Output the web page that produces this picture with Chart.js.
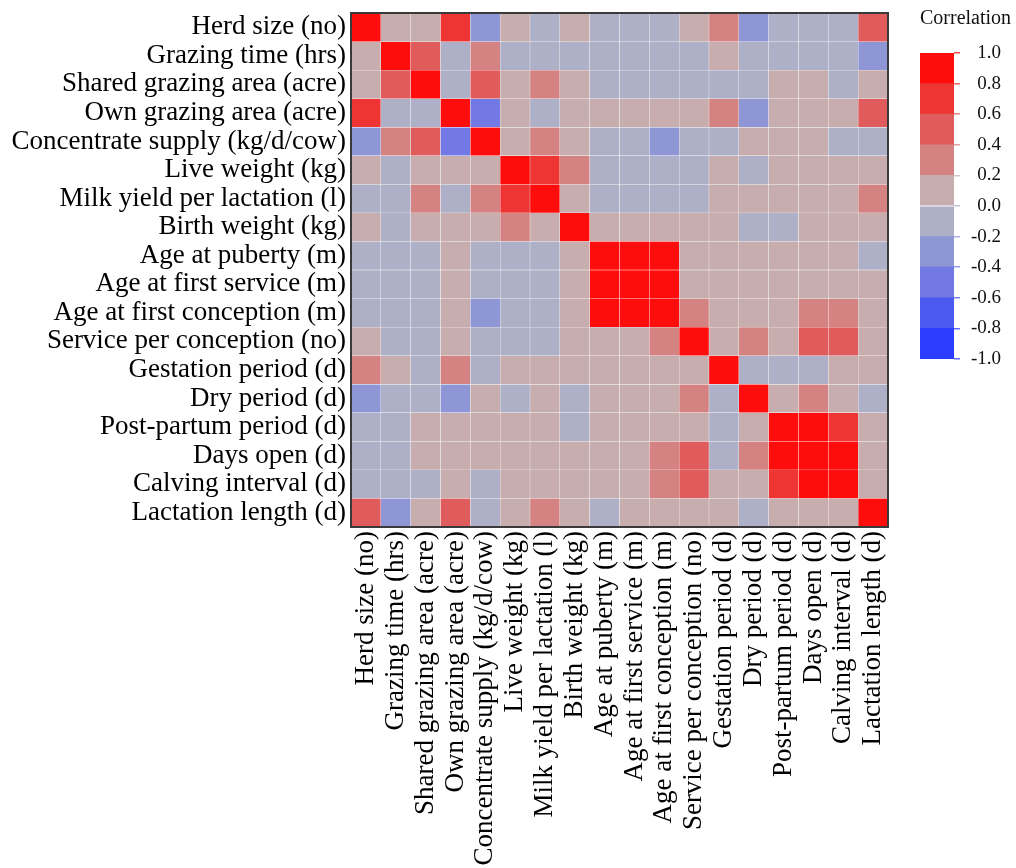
<!DOCTYPE html>
<html>
<head>
<meta charset="utf-8">
<script src="https://cdn.jsdelivr.net/npm/chart.js@4"></script>
<style>
  body { margin: 0; background: #fff; }
  #wrap { position: relative; width: 1016px; height: 868px; }
  canvas { position: absolute; top: 0; }
  #cbTitle { position: absolute; left: 920px; top: 6px; font: 20px "Liberation Serif", "Times New Roman", serif; color: #111; }
</style>
</head>
<body>
<div id="wrap">
  <canvas id="heat" width="1016" height="868" style="left:0"></canvas>
  <canvas id="scale" width="116" height="370" style="left:900px"></canvas>
  <div id="cbTitle">Correlation</div>
</div>
<script>
const variables = [
    'Herd size (no)', 'Grazing time (hrs)', 'Shared grazing area (acre)', 'Own grazing area (acre)',
    'Concentrate supply (kg/d/cow)', 'Live weight (kg)', 'Milk yield per lactation (l)', 'Birth weight (kg)',
    'Age at puberty (m)', 'Age at first service (m)', 'Age at first conception (m)', 'Service per conception (no)',
    'Gestation period (d)', 'Dry period (d)', 'Post-partum period (d)', 'Days open (d)',
    'Calving interval (d)', 'Lactation length (d)'
];

// correlation matrix, one row per variable (same order as columns)
const corr = [
    [1.0, 0.1, 0.1, 0.7, -0.3, 0.1, -0.1, 0.1, -0.1, -0.1, -0.1, 0.1, 0.3, -0.3, -0.1, -0.1, -0.1, 0.5],
    [0.1, 1.0, 0.5, -0.1, 0.3, -0.1, -0.1, -0.1, -0.1, -0.1, -0.1, -0.1, 0.1, -0.1, -0.1, -0.1, -0.1, -0.3],
    [0.1, 0.5, 1.0, -0.1, 0.5, 0.1, 0.3, 0.1, -0.1, -0.1, -0.1, -0.1, -0.1, -0.1, 0.1, 0.1, -0.1, 0.1],
    [0.7, -0.1, -0.1, 1.0, -0.5, 0.1, -0.1, 0.1, 0.1, 0.1, 0.1, 0.1, 0.3, -0.3, 0.1, 0.1, 0.1, 0.5],
    [-0.3, 0.3, 0.5, -0.5, 1.0, 0.1, 0.3, 0.1, -0.1, -0.1, -0.3, -0.1, -0.1, 0.1, 0.1, 0.1, -0.1, -0.1],
    [0.1, -0.1, 0.1, 0.1, 0.1, 1.0, 0.7, 0.3, -0.1, -0.1, -0.1, -0.1, 0.1, -0.1, 0.1, 0.1, 0.1, 0.1],
    [-0.1, -0.1, 0.3, -0.1, 0.3, 0.7, 1.0, 0.1, -0.1, -0.1, -0.1, -0.1, 0.1, 0.1, 0.1, 0.1, 0.1, 0.3],
    [0.1, -0.1, 0.1, 0.1, 0.1, 0.3, 0.1, 1.0, 0.1, 0.1, 0.1, 0.1, 0.1, -0.1, -0.1, 0.1, 0.1, 0.1],
    [-0.1, -0.1, -0.1, 0.1, -0.1, -0.1, -0.1, 0.1, 1.0, 0.9, 0.9, 0.1, 0.1, 0.1, 0.1, 0.1, 0.1, -0.1],
    [-0.1, -0.1, -0.1, 0.1, -0.1, -0.1, -0.1, 0.1, 0.9, 1.0, 0.9, 0.1, 0.1, 0.1, 0.1, 0.1, 0.1, 0.1],
    [-0.1, -0.1, -0.1, 0.1, -0.3, -0.1, -0.1, 0.1, 0.9, 0.9, 1.0, 0.3, 0.1, 0.1, 0.1, 0.3, 0.3, 0.1],
    [0.1, -0.1, -0.1, 0.1, -0.1, -0.1, -0.1, 0.1, 0.1, 0.1, 0.3, 1.0, 0.1, 0.3, 0.1, 0.5, 0.5, 0.1],
    [0.3, 0.1, -0.1, 0.3, -0.1, 0.1, 0.1, 0.1, 0.1, 0.1, 0.1, 0.1, 1.0, -0.1, -0.1, -0.1, 0.1, 0.1],
    [-0.3, -0.1, -0.1, -0.3, 0.1, -0.1, 0.1, -0.1, 0.1, 0.1, 0.1, 0.3, -0.1, 1.0, 0.1, 0.3, 0.1, -0.1],
    [-0.1, -0.1, 0.1, 0.1, 0.1, 0.1, 0.1, -0.1, 0.1, 0.1, 0.1, 0.1, -0.1, 0.1, 1.0, 0.9, 0.7, 0.1],
    [-0.1, -0.1, 0.1, 0.1, 0.1, 0.1, 0.1, 0.1, 0.1, 0.1, 0.3, 0.5, -0.1, 0.3, 0.9, 1.0, 0.9, 0.1],
    [-0.1, -0.1, -0.1, 0.1, -0.1, 0.1, 0.1, 0.1, 0.1, 0.1, 0.3, 0.5, 0.1, 0.1, 0.7, 0.9, 1.0, 0.1],
    [0.5, -0.3, 0.1, 0.5, -0.1, 0.1, 0.3, 0.1, -0.1, 0.1, 0.1, 0.1, 0.1, -0.1, 0.1, 0.1, 0.1, 1.0]
];

// colour scale: 10 bins from -1 to 1
const binEdges = [-1.0, -0.8, -0.6, -0.4, -0.2, 0.0, 0.2, 0.4, 0.6, 0.8, 1.0];
const binColors = ['#2b3dff', '#4a5af0', '#7279e4', '#8f96d6', '#aeb0c7',
                   '#c7adad', '#d58282', '#e05b5b', '#ef3434', '#ff0d0d'];

const serif = '"Liberation Serif", "Times New Roman", serif';

function binIndex(v) {
    return Math.max(0, Math.min(9, Math.floor((v + 1) / 0.2 + 1e-6)));
}
function binColor(v) {
    return binColors[binIndex(v)];
}
function fade(hex, a) {
    const n = parseInt(hex.slice(1), 16);
    return `rgba(${n >> 16},${(n >> 8) & 255},${n & 255},${a})`;
}

const plotBorder = {
    id: 'plotBorder',
    afterDatasetsDraw(chart) {
        const { ctx, chartArea: a } = chart;
        ctx.save();
        ctx.strokeStyle = '#3a3a3a';
        ctx.lineWidth = 2;
        ctx.strokeRect(a.left, a.top, a.right - a.left, a.bottom - a.top);
        ctx.restore();
    }
};

// one dataset per row, each cell is a floating bar spanning [r, r+1]
const heatDatasets = variables.map((name, r) => ({
    label: name,
    data: variables.map(() => [r, r + 1]),
    backgroundColor: corr[r].map(binColor),
    borderColor: 'rgba(255,255,255,0.3)',
    borderWidth: 0.5,
    borderSkipped: false,
    grouped: false,
    barPercentage: 1,
    categoryPercentage: 1
}));

new Chart('heat', {
    type: 'bar',
    data: { labels: variables, datasets: heatDatasets },
    options: {
        responsive: false,
        animation: false,
        layout: { padding: { top: 13, right: 128, left: 0, bottom: 0 } },
        plugins: { legend: { display: false }, tooltip: { enabled: false } },
        scales: {
            x: {
                offset: true,
                grid: { display: false, drawTicks: false },
                border: { display: false },
                ticks: {
                    autoSkip: false, minRotation: 90, maxRotation: 90, padding: 4,
                    color: '#000', font: { family: serif, size: 27 }
                },
                afterFit: s => { s.height = 341; }
            },
            y: {
                type: 'linear', reverse: true, min: 0, max: variables.length,
                afterBuildTicks: s => { s.ticks = variables.map((_, i) => ({ value: i + 0.5 })); },
                grid: { display: false, drawTicks: false },
                border: { display: false },
                ticks: {
                    autoSkip: false, padding: 5, color: '#000',
                    font: { family: serif, size: 27 },
                    callback: v => variables[Math.floor(v)]
                },
                afterFit: s => {
                    s.width = 351;
                    s.paddingTop = 0;
                    s.paddingBottom = 0;
                }
            }
        }
    },
    plugins: [plotBorder]
});

// colour bar
new Chart('scale', {
    type: 'bar',
    data: {
        labels: [''],
        datasets: binColors.map((col, i) => ({
            data: [[binEdges[i], binEdges[i + 1]]],
            backgroundColor: col,
            grouped: false,
            barPercentage: 1,
            categoryPercentage: 1
        }))
    },
    options: {
        responsive: false,
        animation: false,
        layout: { padding: { top: 53, bottom: 11, left: 20, right: 15 } },
        plugins: { legend: { display: false }, tooltip: { enabled: false } },
        scales: {
            x: { display: false },
            y: {
                position: 'right', min: -1, max: 1,
                afterFit: s => {
                    s.width = 47;
                    s.paddingTop = 0;
                    s.paddingBottom = 0;
                },
                border: { display: false },
                grid: {
                    drawOnChartArea: false, tickLength: 6, lineWidth: 1.5,
                    color: ctx => fade(binColors[binIndex(ctx.tick.value - 0.1)], 0.75)
                },
                ticks: {
                    stepSize: 0.2, padding: 10, crossAlign: 'far', color: '#111',
                    font: { family: serif, size: 19 },
                    callback: v => (Math.abs(v) < 1e-9 ? 0 : v).toFixed(1)
                }
            }
        }
    }
});
</script>
</body>
</html>
